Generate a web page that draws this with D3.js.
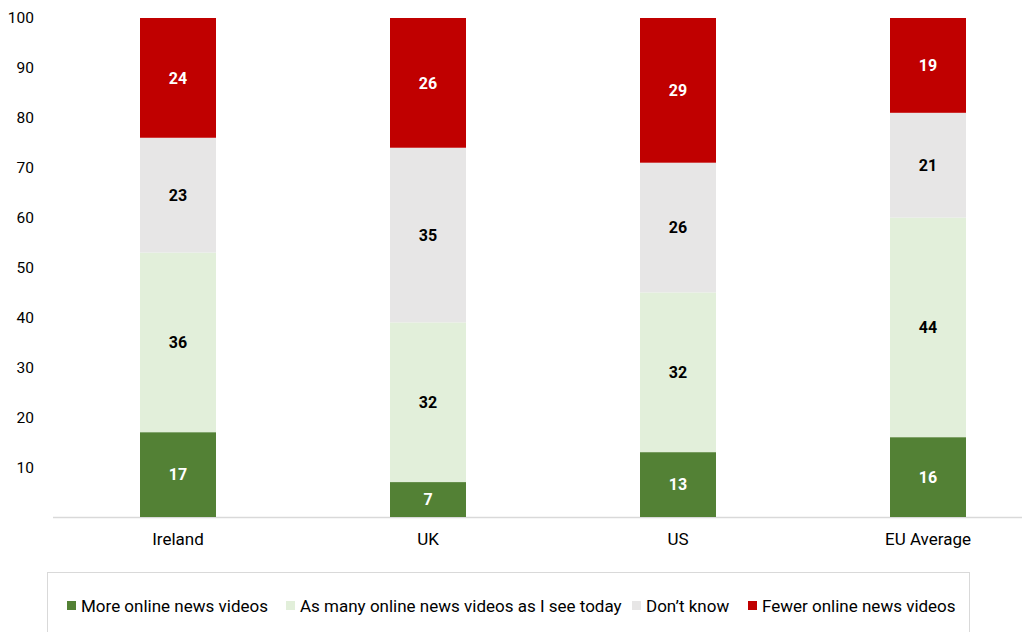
<!DOCTYPE html>
<html><head><meta charset="utf-8">
<script src="https://cdn.jsdelivr.net/npm/d3@7"></script>
<style>body{margin:0;background:#fff;}svg{display:block;font-family:Roboto,"DejaVu Sans",sans-serif;}</style>
</head><body><svg id="c" width="1022" height="632"></svg>
<script>
const categories = ["Ireland","UK","US","EU Average"];
const seriesNames = ["More online news videos","As many online news videos as I see today","Don\u2019t know","Fewer online news videos"];
const moreVals = [17,7,13,16];
const sameVals = [36,32,32,44];
const dkVals = [23,35,26,21];
const fewerVals = [24,26,29,19];
const yTicks = [10,20,30,40,50,60,70,80,90,100];
const colors = ["#538135","#e2efda","#e7e6e6","#c00000"];
const labelColors = ["#fff","#000","#000","#fff"];

const svg = d3.select("#c");
const x = d3.scaleBand().domain(categories).range([53,1053]).paddingInner(0.696).paddingOuter(0.348);
const y = d3.scaleLinear().domain([0,100]).range([517,18]);

const rows = categories.map((c,i)=>({cat:c, s0:moreVals[i], s1:sameVals[i], s2:dkVals[i], s3:fewerVals[i]}));
const stack = d3.stack().keys(["s0","s1","s2","s3"]);
const layers = stack(rows);

svg.append("line").attr("x1",53).attr("x2",1022).attr("y1",y(0)+0.5).attr("y2",y(0)+0.5).attr("stroke","#d9d9d9").attr("stroke-width",1.5);

const yAxis = svg.append("g").attr("transform","translate(34,0)").call(d3.axisLeft(y).tickValues(yTicks).tickSize(0).tickPadding(0));
yAxis.select(".domain").remove();
yAxis.selectAll("text").attr("font-size",15.5).attr("fill","#000").attr("font-family","Roboto,sans-serif").attr("dy","0.32em");

layers.forEach((layer,li)=>{
  const g = svg.append("g");
  g.selectAll("rect").data(layer).join("rect")
    .attr("x",d=>x(d.data.cat)).attr("width",x.bandwidth())
    .attr("y",d=>y(d[1])).attr("height",d=>y(d[0])-y(d[1]))
    .attr("fill",colors[li]);
  g.selectAll("text").data(layer).join("text")
    .attr("x",d=>x(d.data.cat)+x.bandwidth()/2)
    .attr("y",d=>(y(d[0])+y(d[1]))/2)
    .attr("dy","0.36em").attr("text-anchor","middle")
    .attr("font-size",16).attr("font-weight","bold").attr("fill",labelColors[li])
    .text(d=>d[1]-d[0]);
});

const xAxis = svg.append("g").attr("transform",`translate(0,${y(0)})`).call(d3.axisBottom(x).tickSize(0).tickPadding(16));
xAxis.select(".domain").remove();
xAxis.selectAll("text").attr("font-size",17).attr("fill","#000").attr("font-family","Roboto,sans-serif");

svg.append("rect").attr("x",47.5).attr("y",572.5).attr("width",922).attr("height",70).attr("fill","none").attr("stroke","#d9d9d9");
const legX = [67,286,632,748];
const leg = svg.append("g").selectAll("g").data(seriesNames).join("g")
  .attr("transform",(d,i)=>`translate(${legX[i]},606)`);
leg.append("rect").attr("x",0).attr("y",-5).attr("width",9).attr("height",9).attr("fill",(d,i)=>colors[i]);
leg.append("text").attr("x",14).attr("y",0).attr("dy","0.35em").attr("font-size",17).attr("fill","#000").text(d=>d);
</script></body></html>
